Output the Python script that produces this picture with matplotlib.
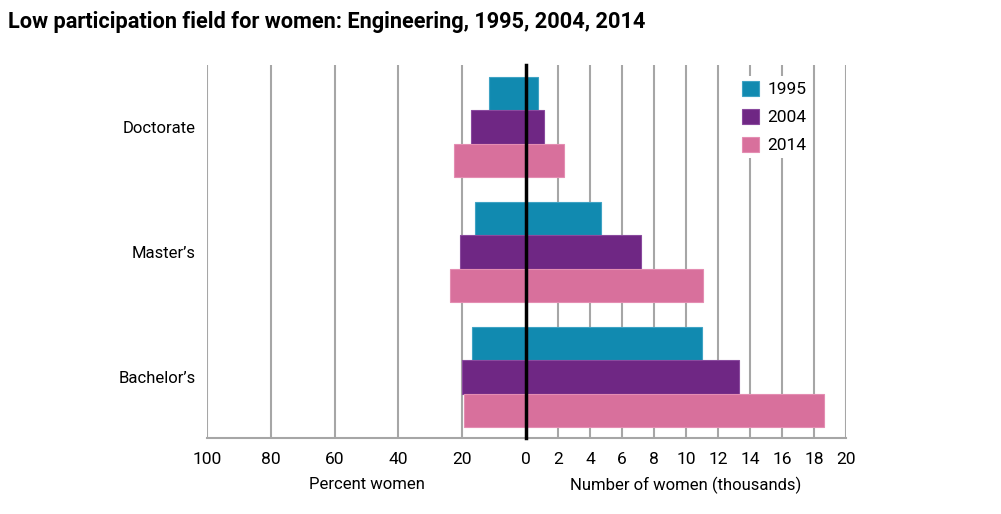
import matplotlib
matplotlib.use("Agg")
import matplotlib.pyplot as plt
from matplotlib.patches import Patch
import numpy as np

# ---- data ----
categories = ["Doctorate", "Master\u2019s", "Bachelor\u2019s"]
years = ["1995", "2004", "2014"]
percent_women = {
    "1995": [11.5, 16.0, 16.8],
    "2004": [17.3, 20.7, 20.2],
    "2014": [22.5, 23.8, 19.5],
}
number_women = {  # thousands
    "1995": [0.77, 4.7, 11.0],
    "2004": [1.1, 7.2, 13.3],
    "2014": [2.37, 11.05, 18.65],
}
left_ticks = [100, 80, 60, 40, 20]
right_ticks = [0, 2, 4, 6, 8, 10, 12, 14, 16, 18, 20]

colors = {"1995": "#118AB0", "2004": "#6F2784", "2014": "#D8709C"}
edges = {"1995": "#3FA3C4", "2004": "#8A4A9E", "2014": "#E48DB2"}

plt.rcParams['font.family'] = ['Roboto', 'DejaVu Sans']

W, H = 1001, 514
fig = plt.figure(figsize=(W / 100, H / 100), dpi=100)

top, bottom = 65, 438
x0, xc, x1 = 207, 526, 846
axL = fig.add_axes([x0 / W, (H - bottom) / H, (xc - x0) / W, (bottom - top) / H])
axR = fig.add_axes([xc / W, (H - bottom) / H, (x1 - xc) / W, (bottom - top) / H])

pitch = 125.0
ymin = -(127 - top) / pitch
ymax = (bottom - 127) / pitch
bh = 33.3 / pitch
ypos = np.arange(len(categories))
offsets = {"1995": -bh, "2004": 0.0, "2014": bh}

grid_color = "#A6A6A6"
for ax in (axL, axR):
    ax.set_ylim(ymax, ymin)
    for s in ("top", "right", "left"):
        ax.spines[s].set_visible(False)
    ax.spines["bottom"].set_color(grid_color)
    ax.spines["bottom"].set_linewidth(1.5)
    ax.tick_params(axis="x", length=0, pad=10, labelsize=12.5, colors="black")
    ax.grid(axis="x", color=grid_color, linewidth=1.5)
    ax.set_axisbelow(True)

for y in years:
    axL.barh(ypos + offsets[y], percent_women[y], height=bh, color=colors[y],
             edgecolor=edges[y], linewidth=0.8)
    axR.barh(ypos + offsets[y], number_women[y], height=bh, color=colors[y],
             edgecolor=edges[y], linewidth=0.8)

axL.set_xlim(100, 0)
axL.set_xticks(left_ticks)
axL.set_xticklabels([str(t) for t in left_ticks])
axL.set_yticks(ypos)
axL.set_yticklabels(categories, fontsize=12)
axL.tick_params(axis="y", length=0, pad=8)

axR.set_xlim(0, 20)
axR.set_xticks(right_ticks)
axR.set_xticklabels([str(t) for t in right_ticks])
axR.set_yticks([])
axR.axvline(0, color="black", linewidth=2.5, zorder=5, clip_on=False)

axL.set_xlabel("Percent women", fontsize=12, labelpad=7)
axR.set_xlabel("Number of women (thousands)", fontsize=12, labelpad=7)

handles = [Patch(facecolor=colors[y], edgecolor=edges[y], linewidth=0.8, label=y) for y in years]
leg = axR.legend(handles=handles, loc="upper left", bbox_to_anchor=(0.66, 0.97),
                 fontsize=12.5, frameon=True, facecolor="white", edgecolor="none",
                 framealpha=1, handlelength=1.0, handleheight=1.0, handletextpad=0.5,
                 labelspacing=0.65, borderpad=0.25, borderaxespad=0)
leg.set_zorder(10)

fig.text(8 / W, 1 - 22 / H, "Low participation field for women: Engineering, 1995, 2004, 2014",
         fontsize=15.7, fontweight="bold", va="center", ha="left")

fig.savefig("out.png", dpi=100)
